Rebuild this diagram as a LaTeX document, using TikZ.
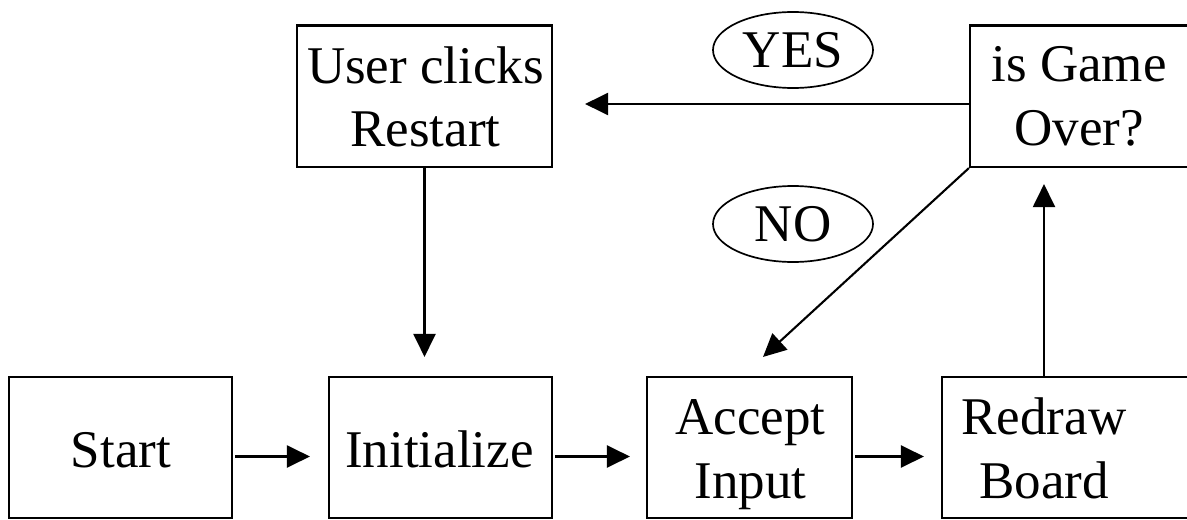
\documentclass[tikz,border=0pt]{standalone}
\usepackage{fontspec}
\setmainfont{Liberation Serif}
\usetikzlibrary{arrows.meta,shapes.geometric,calc}

\tikzset{
  flowbox/.style={draw, line width=1.05pt, rectangle, inner sep=0pt},
  boxtext/.style={anchor=base, align=center, inner sep=0pt,
                  font=\fontsize{26.5}{31.75}\selectfont},
  answer/.style={draw, line width=0.85pt, ellipse, inner sep=0pt,
                 minimum width=80pt, minimum height=38pt,
                 font=\fontsize{26.5}{31.75}\selectfont},
  flow/.style={line width=1.05pt, -{Triangle[length=11.5pt,width=11pt]}},
}

\begin{document}
\begin{tikzpicture}[x=0.5pt, y=-0.5pt]
  \useasboundingbox (0,0) rectangle (1187,519);
  \clip (0,0) rectangle (1187,519);

  % process boxes (bottom row)
  \node[flowbox, minimum width=111.5pt, minimum height=70.5pt] (start)  at (120.5,447.5) {};
  \node[flowbox, minimum width=111.5pt, minimum height=70.5pt] (init)   at (440.5,447.5) {};
  \node[flowbox, minimum width=102.5pt, minimum height=70.5pt] (accept) at (749.5,447.5) {};
  \node[flowbox, minimum width=144pt,   minimum height=70.5pt] (redraw) at (1086,447.5) {};

  % top row
  \node[flowbox, minimum width=127.5pt, minimum height=70.75pt] (user) at (424.5,96.25) {};
  \node[flowbox, minimum width=130pt,   minimum height=70.75pt] (game) at (1100,96.25) {};

  % box captions (base anchor sits on the last line)
  \node[boxtext] (startlbl)  at (121,467)   {Start};
  \node[boxtext] (initlbl)   at (439.5,467) {Initialize};
  \node[boxtext] (acceptlbl) at (750.5,498) {Accept\\Input};
  \node[boxtext] (redrawlbl) at (1044,498)  {Redraw\\Board};
  \node[boxtext] (userlbl)   at (425.5,147) {User clicks\\Restart};
  \node[boxtext] (gamelbl)   at (1079,145)  {is Game\\Over?};

  % branch answers
  \node[answer] (yes) at (793,50)  {YES};
  \node[answer] (no)  at (793,224) {NO};

  % connectors
  \draw[flow] ($(start.east)+(2,9)$)  -- ($(init.west)+(-18,9)$);
  \draw[flow] ($(init.east)+(2,9)$)   -- ($(accept.west)+(-16,9)$);
  \draw[flow] ($(accept.east)+(2,9)$) -- ($(redraw.west)+(-17,9)$);
  \draw[flow] (user.south) -- ($(init.north -| user.south)+(0,-19)$);
  \draw[flow] (redrawlbl |- redraw.north) -- ($(redrawlbl |- game.south)+(0,16)$);
  \draw[flow] ($(game.west)+(0,7.75)$) -- ($(user.east)+(32,7.75)$);
  \draw[flow] (game.south west) -- ($(accept.north)+(13.5,-19)$);
\end{tikzpicture}
\end{document}
